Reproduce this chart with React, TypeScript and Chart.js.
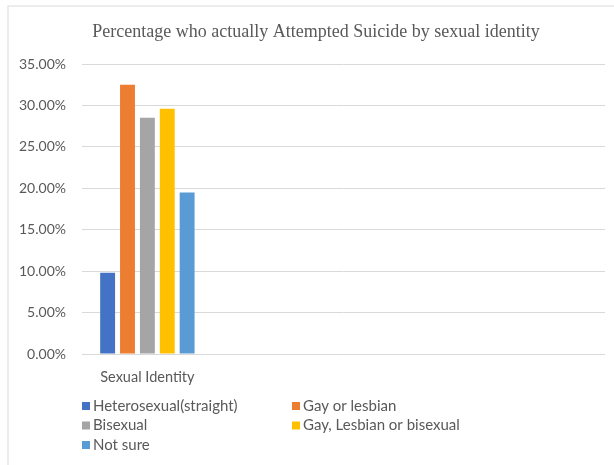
import React, { useEffect, useRef } from "react";
import { Chart, registerables } from "chart.js";
Chart.register(...registerables);

const chartTitle = "Percentage who actually Attempted Suicide by sexual identity";
const categories = ["Sexual Identity", "", "", ""];
const seriesNames = [
  "Heterosexual(straight)",
  "Gay or lesbian",
  "Bisexual",
  "Gay, Lesbian or bisexual",
  "Not sure",
];
const heterosexual = [9.8, null, null, null];
const gayOrLesbian = [32.5, null, null, null];
const bisexual = [28.5, null, null, null];
const gayLesbianOrBisexual = [29.6, null, null, null];
const notSure = [19.5, null, null, null];
const seriesColors = ["#4472C4", "#ED7D31", "#A5A5A5", "#FFC000", "#5B9BD5"];
const yMin = 0;
const yMax = 35;
const yStep = 5;

const FONT = "Lato, 'Open Sans', sans-serif";
const TEXT = "#595959";

const decor = {
  id: "decor",
  beforeDraw(chart: any) {
    const ctx = chart.ctx;
    ctx.save();
    ctx.fillStyle = "#ffffff";
    ctx.fillRect(0, 0, chart.width, chart.height);
    ctx.strokeStyle = "#e6e6e6";
    ctx.lineWidth = 1.5;
    ctx.beginPath();
    ctx.moveTo(8, chart.height);
    ctx.lineTo(8, 6);
    ctx.lineTo(chart.width, 6);
    ctx.stroke();
    ctx.restore();
  },
  afterDraw(chart: any) {
    const ctx = chart.ctx;
    ctx.save();
    ctx.fillStyle = TEXT;
    ctx.font = "18px 'Liberation Serif', 'Times New Roman', serif";
    ctx.textAlign = "center";
    ctx.textBaseline = "middle";
    ctx.fillText(chartTitle, 316, 32);
    const cols = [82, 292];
    const rows = [406, 425.5, 445];
    ctx.font = `15px ${FONT}`;
    ctx.textAlign = "left";
    chart.data.datasets.forEach((ds: any, i: number) => {
      const x = cols[i % 2];
      const y = rows[Math.floor(i / 2)];
      ctx.fillStyle = ds.backgroundColor;
      ctx.fillRect(x, y - 4, 8, 8);
      ctx.fillStyle = TEXT;
      ctx.fillText(ds.label, x + 11, y);
    });
    ctx.restore();
  },
};

export default function App() {
  const ref = useRef<HTMLCanvasElement | null>(null);
  useEffect(() => {
    document.body.style.margin = "0";
    const seriesData = [heterosexual, gayOrLesbian, bisexual, gayLesbianOrBisexual, notSure];
    const chart = new Chart(ref.current as HTMLCanvasElement, {
      type: "bar",
      data: {
        labels: categories,
        datasets: seriesNames.map((name, i) => ({
          label: name,
          data: seriesData[i],
          backgroundColor: seriesColors[i],
          borderWidth: 0,
          barPercentage: 0.75,
          categoryPercentage: 0.76,
        })),
      },
      options: {
        responsive: false,
        animation: false,
        layout: { padding: { left: 0, right: 9, top: 64, bottom: 0 } },
        plugins: {
          legend: { display: false },
          title: { display: false },
          tooltip: { enabled: false },
        },
        scales: {
          x: {
            grid: { display: false, drawTicks: false },
            border: { display: false },
            ticks: { color: TEXT, font: { family: FONT, size: 14.5 }, padding: 15, maxRotation: 0, autoSkip: false },
            afterFit: (s: any) => { s.height = 111; },
          },
          y: {
            min: yMin,
            max: yMax,
            grid: { color: "#d9d9d9", drawTicks: false },
            border: { display: false },
            ticks: {
              stepSize: yStep,
              color: TEXT,
              font: { family: FONT, size: 14 },
              padding: 16,
              callback: (v: any) => Number(v).toFixed(2) + "%",
            },
            afterFit: (s: any) => { s.width = 82; },
          },
        },
      },
      plugins: [decor],
    });
    return () => chart.destroy();
  }, []);
  return <canvas ref={ref} width={614} height={465} style={{ display: "block" }} />;
}
